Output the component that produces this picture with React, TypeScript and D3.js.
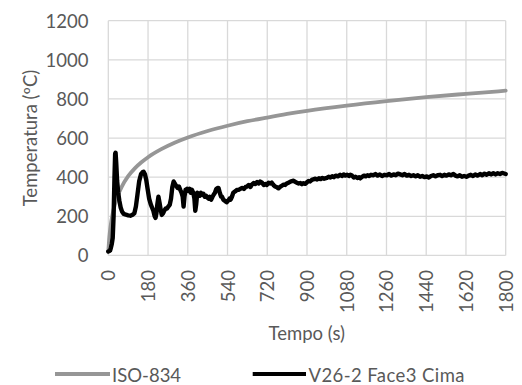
import React from "react";
import * as d3 from "d3";

const xTicks = [0, 180, 360, 540, 720, 900, 1080, 1260, 1440, 1620, 1800];
const yTicks = [0, 200, 400, 600, 800, 1000, 1200];

const isoTimes = [0, 5, 10, 20, 30, 45, 60, 90, 120, 150, 180, 240, 300, 360, 450, 540, 630, 720, 810, 900, 1080, 1260, 1440, 1620, 1800];
const isoTemps = [20, 96, 147, 215, 261, 311, 349, 405, 445, 476, 502, 543, 576, 603, 636, 663, 686, 705, 723, 739, 766, 789, 809, 826, 842];

const sensorTimes = [
  0, 4, 8, 12, 16, 20, 24, 28, 31, 33, 36, 40, 45, 50, 56, 62, 70, 80, 90, 100, 110, 118, 125, 132, 140, 148, 155, 160, 166, 172, 178, 185, 192, 198, 204, 210, 214, 218, 222, 227, 232, 237, 242, 248, 254, 260, 266, 272, 278, 284, 290, 296, 302, 308, 314, 320, 326, 332, 337, 341, 345, 350, 356, 362, 368, 374, 379, 385, 390, 394, 398, 403, 409, 415, 420, 425, 431, 437, 443, 449, 454, 460, 466, 472, 477, 483, 489, 495, 499, 505, 511, 515, 521, 527, 532, 537, 543, 549, 554, 560, 566, 572, 578, 582, 590, 598, 606, 614, 622, 628, 636, 644, 650, 658, 666, 674, 682, 688, 696, 704, 712, 718, 726, 734, 740, 748, 756, 764, 771, 778, 786, 794, 801, 808, 816, 824, 832, 839, 846, 854, 862, 870, 877, 884, 892, 900, 907, 914, 922, 929, 938, 946, 954, 962, 970, 978, 990, 998, 1006, 1014, 1022, 1030, 1040, 1050, 1058, 1066, 1074, 1082, 1090, 1096, 1104, 1112, 1120, 1128, 1136, 1141, 1150, 1158, 1166, 1174, 1182, 1190, 1201, 1210, 1220, 1230, 1240, 1250, 1262, 1272, 1282, 1292, 1302, 1312, 1322, 1332, 1342, 1352, 1362, 1372, 1382, 1392, 1402, 1412, 1422, 1432, 1443, 1452, 1462, 1472, 1482, 1492, 1503, 1512, 1522, 1532, 1542, 1552, 1563, 1572, 1582, 1592, 1602, 1612, 1624, 1632, 1642, 1652, 1662, 1672, 1684, 1694, 1704, 1714, 1724, 1734, 1744, 1754, 1764, 1774, 1784, 1790, 1800,
];
const sensorTemps = [
  20, 22, 25, 40, 60, 90, 200, 400, 520, 525, 470, 380, 320, 280, 245, 225, 212, 208, 205, 203, 208, 215, 250, 310, 380, 415, 425, 428, 415, 385, 340, 290, 262, 245, 228, 200, 192, 215, 260, 300, 270, 235, 207, 215, 230, 240, 240, 250, 258, 290, 350, 378, 365, 355, 345, 352, 335, 320, 300, 250, 300, 335, 340, 330, 340, 320, 335, 320, 290, 228, 260, 320, 315, 305, 320, 310, 315, 300, 305, 295, 290, 300, 285, 300, 310, 320, 340, 345, 345, 320, 300, 300, 285, 280, 275, 272, 280, 290, 285, 300, 320, 325, 330, 335, 335, 340, 345, 340, 350, 352, 360, 350, 362, 370, 365, 375, 368, 378, 372, 360, 365, 360, 372, 368, 372, 360, 352, 348, 343, 350, 356, 362, 360, 368, 372, 376, 380, 382, 376, 372, 368, 370, 364, 369, 366, 374, 380, 378, 386, 389, 392, 388, 394, 390, 396, 392, 396, 402, 398, 405, 400, 408, 404, 412, 406, 414, 408, 412, 406, 412, 408, 398, 402, 396, 400, 394, 402, 408, 404, 410, 406, 412, 410, 416, 408, 414, 406, 412, 410, 416, 408, 414, 410, 418, 414, 410, 416, 408, 412, 406, 410, 404, 410, 402, 406, 400, 404, 398, 406, 410, 404, 410, 412, 406, 412, 408, 414, 410, 416, 408, 404, 410, 402, 406, 402, 408, 412, 406, 414, 408, 416, 410, 418, 412, 420, 414, 420, 414, 420, 416, 422, 420, 416,
];

const W = 522;
const H = 385;
const FONT = "Lato, 'Open Sans', sans-serif";
const TXT = "#595959";
const GRID = "#d9d9d9";

export default function App() {
  const x = d3.scaleLinear().domain([0, 1800]).range([108.3, 505.7]);
  const y = d3.scaleLinear().domain([0, 1200]).range([255.4, 20.7]);

  const iso = isoTimes.map((t, i) => [t, isoTemps[i]] as [number, number]);
  const sensor = sensorTimes.map((t, i) => [t, sensorTemps[i]] as [number, number]);

  const isoLine = d3
    .line<[number, number]>()
    .x((d) => x(d[0]))
    .y((d) => y(d[1]))
    .curve(d3.curveMonotoneX);
  const sensorLine = d3
    .line<[number, number]>()
    .x((d) => x(d[0]))
    .y((d) => y(d[1]))
    .curve(d3.curveLinear);

  return (
    <div style={{ position: "fixed", left: 0, top: 0, width: W, height: H, background: "#fff" }}>
      <svg width={W} height={H} viewBox={`0 0 ${W} ${H}`} style={{ display: "block" }} fontFamily={FONT}>
        <rect x={0} y={0} width={W} height={H} fill="#fff" />
        {yTicks.map((v) => (
          <line key={"gy" + v} x1={x(0)} x2={x(1800)} y1={y(v)} y2={y(v)} stroke={GRID} strokeWidth={1.3} />
        ))}
        {xTicks.map((v) => (
          <line key={"gx" + v} x1={x(v)} x2={x(v)} y1={y(0)} y2={y(1200)} stroke={GRID} strokeWidth={1.3} />
        ))}
        {yTicks.map((v) => (
          <text key={"ty" + v} x={88.5} y={y(v)} textAnchor="end" dominantBaseline="central" fontSize={18.5} fill={TXT}>
            {v}
          </text>
        ))}
        {xTicks.map((v) => (
          <text
            key={"tx" + v}
            transform={`translate(${x(v)},270) rotate(-90)`}
            textAnchor="end"
            dominantBaseline="central"
            fontSize={18.5}
            fill={TXT}
          >
            {v}
          </text>
        ))}
        <text
          transform={`translate(30,138) rotate(-90)`}
          textAnchor="middle"
          dominantBaseline="central"
          fontSize={18.5}
          fill={TXT}
        >
          Temperatura (ºC)
        </text>
        <text x={306.8} y={333} textAnchor="middle" dominantBaseline="central" fontSize={18.5} fill={TXT}>
          Tempo (s)
        </text>
        <path d={isoLine(iso) || ""} fill="none" stroke="#969696" strokeWidth={3.8} strokeLinecap="round" />
        <path d={sensorLine(sensor) || ""} fill="none" stroke="#000" strokeWidth={4.4} strokeLinejoin="round" strokeLinecap="round" />
        <line x1={55} x2={110} y1={374} y2={374} stroke="#969696" strokeWidth={3.8} />
        <text x={112} y={374.5} dominantBaseline="central" fontSize={18.5} fill={TXT}>
          ISO-834
        </text>
        <line x1={252.7} x2={306} y1={374} y2={374} stroke="#000" strokeWidth={4.2} />
        <text x={308.5} y={374.5} dominantBaseline="central" fontSize={18.5} fill={TXT} textLength={156} lengthAdjust="spacing">
          V26-2 Face3 Cima
        </text>
      </svg>
    </div>
  );
}
